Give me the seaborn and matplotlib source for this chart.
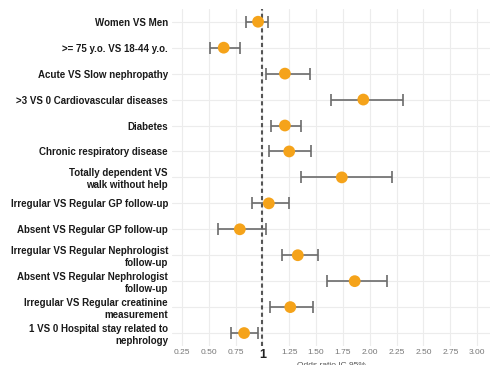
import pandas as pd
import matplotlib.pyplot as plt
import seaborn as sns

# Data
labels = [
    "Women VS Men",
    ">= 75 y.o. VS 18-44 y.o.",
    "Acute VS Slow nephropathy",
    ">3 VS 0 Cardiovascular diseases",
    "Diabetes",
    "Chronic respiratory disease",
    "Totally dependent VS\nwalk without help",
    "Irregular VS Regular GP follow-up",
    "Absent VS Regular GP follow-up",
    "Irregular VS Regular Nephrologist\nfollow-up",
    "Absent VS Regular Nephrologist\nfollow-up",
    "Irregular VS Regular creatinine\nmeasurement",
    "1 VS 0 Hospital stay related to\nnephrology",
]
odds_ratio = [0.96, 0.64, 1.21, 1.94, 1.21, 1.25, 1.74, 1.06, 0.79, 1.33, 1.86, 1.26, 0.83]
ci_low = [0.85, 0.51, 1.03, 1.64, 1.08, 1.06, 1.36, 0.90, 0.59, 1.18, 1.60, 1.07, 0.71]
ci_high = [1.055, 0.79, 1.44, 2.31, 1.36, 1.45, 2.21, 1.25, 1.03, 1.52, 2.16, 1.47, 0.96]
x_ticks = [0.25, 0.5, 0.75, 1, 1.25, 1.5, 1.75, 2.0, 2.25, 2.5, 2.75, 3.0]
x_tick_labels = ["0.25", "0.50", "0.75", "1", "1.25", "1.50", "1.75", "2.00",
                 "2.25", "2.50", "2.75", "3.00"]

df = pd.DataFrame({"label": labels, "or": odds_ratio, "lo": ci_low, "hi": ci_high})
df["pos"] = range(len(df))

sns.set_theme(style="whitegrid")
plt.rcParams['font.family'] = ['Liberation Sans', 'DejaVu Sans']

fig = plt.figure(figsize=(4.99, 3.65), dpi=100)
ax = fig.add_axes([0.345, 0.052, 0.637, 0.924])

# reference line at OR = 1
ax.axvline(1, color="#555555", linestyle=(0, (2, 1.5)), linewidth=1.5, zorder=1)

# confidence intervals
ax.errorbar(df["or"], df["pos"],
            xerr=[df["or"] - df["lo"], df["hi"] - df["or"]],
            fmt="none", ecolor="#6b6b6b", elinewidth=1.2, capsize=4, capthick=1.2, zorder=2)

sns.scatterplot(data=df, x="or", y="pos", color="#f5a31a", s=72, edgecolor="none",
                zorder=3, ax=ax)

ax.set_ylim(12.5, -0.5)
ax.set_xlim(0.16, 3.12)
ax.set_yticks(df["pos"])
ax.set_yticklabels(df["label"], fontsize=7, fontweight="bold", color="#1a1a1a")
ax.set_xticks(x_ticks)
ax.set_xticklabels(x_tick_labels, fontsize=6, color="#777777")
for t in ax.get_xticklabels():
    if t.get_text() == "1":
        t.set_fontsize(9)
        t.set_fontweight("bold")
        t.set_color("#222222")
ax.tick_params(axis="y", pad=3, length=0)
ax.tick_params(axis="x", pad=2, length=0)
ax.set_xlabel("Odds ratio IC 95%", fontsize=6, color="#555555", labelpad=1)
ax.set_ylabel("")

ax.grid(True, color="#ececec", linewidth=0.8)
for s in ax.spines.values():
    s.set_visible(False)

fig.savefig("out.png", dpi=100)
